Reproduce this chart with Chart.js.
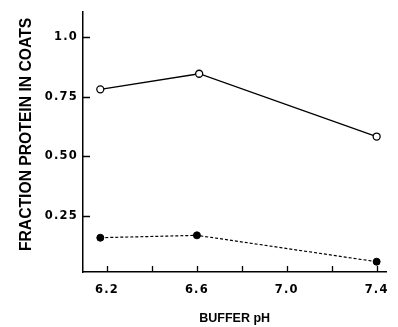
<!DOCTYPE html>
<html>
<head>
<meta charset="utf-8">
<script src="https://cdn.jsdelivr.net/npm/chart.js@4/dist/chart.umd.min.js"></script>
<style>
html,body{margin:0;padding:0;background:#fff;}
canvas{display:block;}
</style>
</head>
<body>
<canvas id="c" width="398" height="327"></canvas>
<script>
// Data
const openPH = [6.17, 6.61, 7.4];
const openFraction = [0.78, 0.845, 0.583];
const filledPH = [6.17, 6.6, 7.4];
const filledFraction = [0.161, 0.171, 0.061];
const xTickValues = [6.2, 6.4, 6.6, 6.8, 7.0, 7.2, 7.4];
const xTickLabels = ['6.2', '', '6.6', '', '7.0', '', '7.4'];
const yTickValues = [0.25, 0.5, 0.75, 1.0];
const yTickLabels = ['0.25', '0.50', '0.75', '1.0'];
const xTitle = 'BUFFER pH';
const yTitle = 'FRACTION PROTEIN IN COATS';

Chart.defaults.font.family = "'Liberation Sans', Arial, sans-serif";
Chart.defaults.color = '#000';

const tickFont = {family: "'DejaVu Sans', sans-serif", size: 11.5, weight: 'bold'};

const toXY = (xs, ys) => xs.map((x, i) => ({x: x, y: ys[i]}));

const axisDecor = {
  id: 'axisDecor',
  beforeDraw(chart) { chart.ctx.letterSpacing = '0px'; },
  afterDatasetsDraw(chart) {
    const ctx = chart.ctx;
    const xs = chart.scales.x, ys = chart.scales.y;
    const a = chart.chartArea;
    ctx.save();
    ctx.strokeStyle = '#000';
    ctx.lineWidth = 1.3;
    ctx.beginPath();
    xs.ticks.forEach(t => {
      const px = Math.round(xs.getPixelForValue(t.value)) + 0.5;
      ctx.moveTo(px, a.bottom);
      ctx.lineTo(px, a.bottom - 6);
    });
    ys.ticks.forEach(t => {
      const py = Math.round(ys.getPixelForValue(t.value)) + 0.5;
      ctx.moveTo(a.left, py);
      ctx.lineTo(a.left + 7, py);
    });
    ctx.stroke();
    ctx.restore();
    ctx.letterSpacing = '1.2px';
  },
  afterDraw(chart) {
    const ctx = chart.ctx;
    const a = chart.chartArea;
    ctx.letterSpacing = '0px';
    ctx.save();
    ctx.translate(27, (a.top + a.bottom) / 2 - 7.5);
    ctx.rotate(-Math.PI / 2);
    ctx.font = "bold 15.7px 'Liberation Sans', Arial, sans-serif";
    ctx.fillStyle = '#000';
    ctx.textAlign = 'center';
    ctx.textBaseline = 'middle';
    ctx.fillText(yTitle, 0, 0);
    ctx.restore();
  }
};

new Chart(document.getElementById('c'), {
  type: 'scatter',
  data: {
    datasets: [
      {
        data: toXY(openPH, openFraction),
        showLine: true,
        borderColor: '#000',
        borderWidth: 1.3,
        pointRadius: 3.5,
        pointBorderWidth: 1.3,
        pointBackgroundColor: '#fff',
        pointBorderColor: '#000'
      },
      {
        data: toXY(filledPH, filledFraction),
        showLine: true,
        borderColor: '#000',
        borderWidth: 1.2,
        borderDash: [3, 2],
        pointRadius: 3.5,
        pointBorderWidth: 1,
        pointBackgroundColor: '#000',
        pointBorderColor: '#000'
      }
    ]
  },
  options: {
    responsive: false,
    animation: false,
    devicePixelRatio: 1,
    layout: {padding: {top: 10, right: 3, left: 0, bottom: 0}},
    plugins: {legend: {display: false}, tooltip: {enabled: false}},
    scales: {
      x: {
        type: 'linear',
        min: 6.093,
        max: 7.443,
        afterBuildTicks: s => { s.ticks = xTickValues.map(v => ({value: v})); },
        afterFit: s => { s.height = 55; },
        grid: {display: false, drawTicks: false},
        border: {display: true, color: '#000', width: 1.5},
        ticks: {
          z: 1,
          padding: 11,
          maxRotation: 0,
          autoSkip: false,
          font: tickFont,
          callback: (v, i) => xTickLabels[i]
        },
        title: {
          display: true,
          text: xTitle,
          font: {size: 12.5, weight: 'bold'},
          padding: {top: 0, bottom: 1}
        }
      },
      y: {
        type: 'linear',
        min: 0.018,
        max: 1.103,
        afterBuildTicks: s => { s.ticks = yTickValues.map(v => ({value: v})); },
        afterFit: s => { s.width = 83; },
        grid: {display: false, drawTicks: false},
        border: {display: true, color: '#000', width: 1.5},
        ticks: {
          z: 1,
          padding: 5,
          autoSkip: false,
          font: tickFont,
          callback: (v, i) => yTickLabels[i]
        },
        title: {display: false, text: yTitle}
      }
    }
  },
  plugins: [axisDecor]
});
</script>
</body>
</html>
